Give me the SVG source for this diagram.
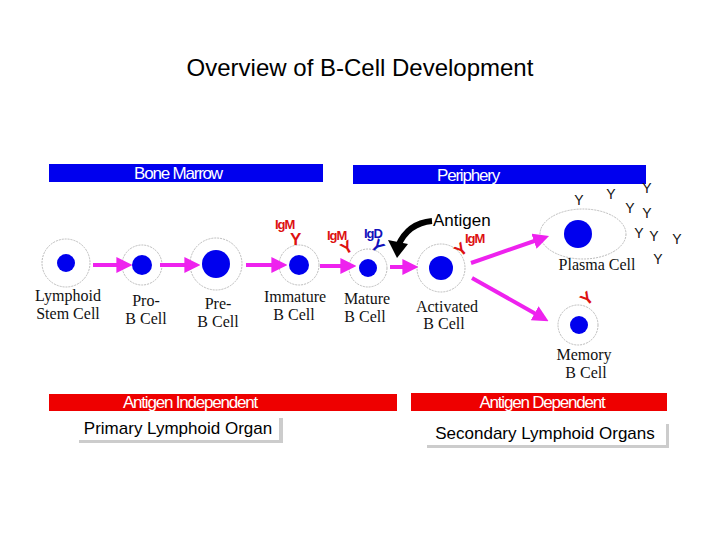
<svg xmlns="http://www.w3.org/2000/svg" width="720" height="540" viewBox="0 0 720 540">
<style>
.o{fill:#fff;stroke:#bbb;stroke-width:1;stroke-dasharray:2 1}
.n{fill:#0000ee}
.l{font-family:"Liberation Serif",serif;font-size:16px;fill:#111;text-anchor:middle}
.b{font-family:"Liberation Sans",sans-serif;font-size:17px;fill:#fff;text-anchor:middle;letter-spacing:-1.2px}
.a{stroke:#ee22ee;stroke-width:4;fill:none;marker-end:url(#m)}
.y{font-family:"Liberation Sans",sans-serif;font-size:14px;fill:#111;text-anchor:middle}
.r{font-family:"Liberation Sans",sans-serif;font-weight:bold;font-size:13px;fill:#dd1111;letter-spacing:-1px}
.ry{font-family:"Liberation Sans",sans-serif;font-size:17px;fill:#d11;font-weight:bold}
</style>
<defs><marker id="m" viewBox="0 0 10 10" refX="6" refY="5" markerWidth="4" markerHeight="4" orient="auto"><path d="M0,0L10,5L0,10Z" fill="#ee22ee"/></marker></defs>
<rect width="720" height="540" fill="#fff"/>
<text x="360" y="76" font-family="Liberation Sans,sans-serif" font-size="24" text-anchor="middle">Overview of B-Cell Development</text>
<g id="bars">
<rect x="49" y="164" width="274" height="18" fill="#0000ee"/><text class="b" x="178" y="179">Bone Marrow</text>
<rect x="353" y="165" width="293" height="19" fill="#0000ee"/><text class="b" x="468" y="181">Periphery</text>
<rect x="49" y="394" width="348" height="17" fill="#ee0000"/><text class="b" x="190" y="408" font-size="15">Antigen Independent</text>
<rect x="411" y="393" width="256" height="18" fill="#ee0000"/><text class="b" x="542" y="408">Antigen Dependent</text>
<rect x="79" y="418" width="204" height="25" fill="#ccc"/><rect x="76" y="415" width="203" height="25" fill="#fff"/>
<text x="178" y="434" font-family="Liberation Sans,sans-serif" font-size="17" text-anchor="middle">Primary Lymphoid Organ</text>
<rect x="427" y="424" width="242" height="24" fill="#ccc"/><rect x="424" y="421" width="242" height="24" fill="#fff"/>
<text x="545" y="439" font-family="Liberation Sans,sans-serif" font-size="17" text-anchor="middle">Secondary Lymphoid Organs</text>
</g>
<g id="lymphoid"><circle class="o" cx="66" cy="263" r="24"/><circle class="n" cx="66" cy="263" r="9"/><text class="l" x="68" y="301">Lymphoid</text><text class="l" x="68" y="319">Stem Cell</text></g>
<g id="pro"><circle class="o" cx="142" cy="265" r="20"/><circle class="n" cx="142" cy="265" r="10"/><text class="l" x="146" y="306">Pro-</text><text class="l" x="146" y="324">B Cell</text></g>
<g id="pre"><circle class="o" cx="216" cy="264" r="26"/><circle class="n" cx="216" cy="264" r="14"/><text class="l" x="218" y="309">Pre-</text><text class="l" x="218" y="327">B Cell</text></g>
<g id="immature"><circle class="o" cx="299" cy="265" r="20"/><circle class="n" cx="299" cy="265" r="10"/><text class="l" x="295" y="302">Immature</text><text class="l" x="294" y="320">B Cell</text>
<text class="r" x="275" y="229">IgM</text><text class="ry" x="290" y="245">Y</text></g>
<g id="mature"><circle class="o" cx="368" cy="268" r="19"/><circle class="n" cx="368" cy="268" r="9"/><text class="l" x="367" y="304">Mature</text><text class="l" x="365" y="322">B Cell</text>
<text class="r" x="327" y="240">IgM</text><text class="ry" x="341" y="253" transform="rotate(-30 347 247)">Y</text>
<text x="364" y="238" style="font-family:Liberation Sans,sans-serif;font-size:13px;fill:#11b;font-weight:bold;letter-spacing:-1px">IgD</text><text class="ry" style="fill:#11b" x="372" y="252" transform="rotate(45 378 246)">Y</text></g>
<g id="activated"><circle class="o" cx="441" cy="268" r="24"/><circle class="n" cx="441" cy="268" r="12"/><text class="l" x="447" y="312">Activated</text><text class="l" x="444" y="329">B Cell</text>
<text class="r" x="465" y="243">IgM</text><text class="ry" x="455" y="255" transform="rotate(-40 461 249)">Y</text></g>
<g id="antigen"><text x="433" y="226" font-family="Liberation Sans,sans-serif" font-size="17">Antigen</text>
<path d="M432,221 Q408,223 398,246" stroke="#000" stroke-width="6" fill="none"/><path d="M388,240 L397,258 L408,244Z" fill="#000"/></g>
<g id="plasma"><ellipse class="o" cx="583" cy="234" rx="43" ry="25"/><circle class="n" cx="578" cy="234" r="14"/><text class="l" x="597" y="270">Plasma Cell</text>
<text class="y" x="579" y="205">Y</text><text class="y" x="611" y="199">Y</text><text class="y" x="647" y="193">Y</text><text class="y" x="630" y="213">Y</text><text class="y" x="647" y="218">Y</text><text class="y" x="639" y="238">Y</text><text class="y" x="654" y="241">Y</text><text class="y" x="677" y="244">Y</text><text class="y" x="658" y="264">Y</text></g>
<g id="memory"><circle class="o" cx="578" cy="325" r="20"/><circle class="n" cx="579" cy="325" r="9"/><text class="l" x="584" y="360">Memory</text><text class="l" x="586" y="378">B Cell</text>
<text class="ry" x="581" y="304" transform="rotate(-40 587 298)">Y</text></g>
<g id="connectors">
<path class="a" d="M93,265H126"/><path class="a" d="M160,265H194"/><path class="a" d="M246,265H281"/><path class="a" d="M320,266H350"/><path class="a" d="M390,267H412"/>
<path class="a" d="M471,263L543,238"/><path class="a" d="M472,278L543,318"/>
</g>
</svg>
